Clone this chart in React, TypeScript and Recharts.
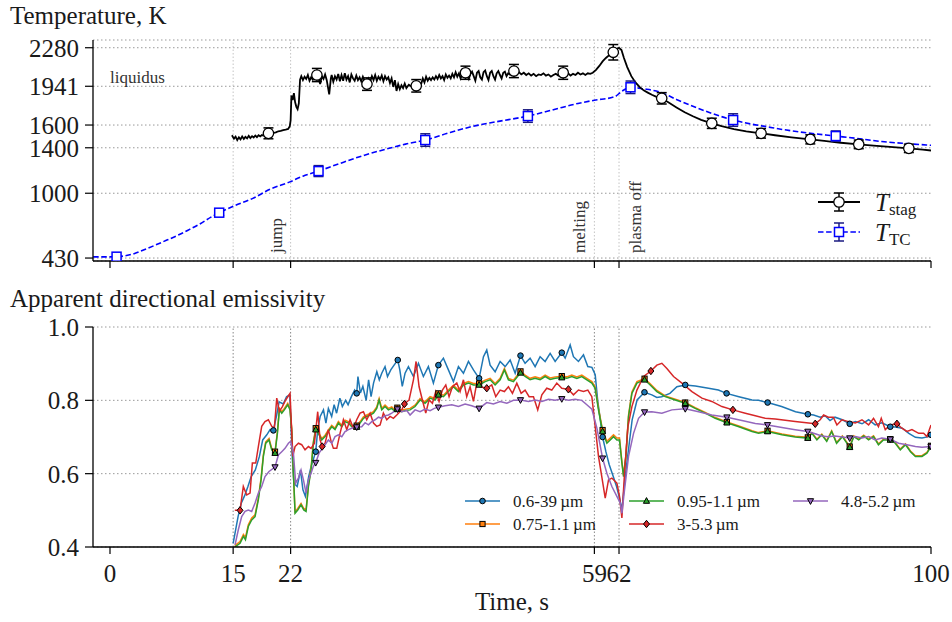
import React from "react";
import {
  ComposedChart,
  Line,
  Scatter,
  XAxis,
  YAxis,
  CartesianGrid,
  ReferenceLine,
  ErrorBar,
} from "recharts";

const FONT = "'Liberation Serif', 'Times New Roman', serif";
const INK = "#1a1a1a";

// axes
const timeTicks = [0, 15, 22, 59, 62, 100];
const eventTimes = [15, 22, 59, 62];
const tempTicks = [430, 1000, 1400, 1600, 1941, 2280];
const liquidusK = 1941;
const emisTicks = [0.4, 0.6, 0.8, 1.0];

// [time s, temperature K, error K (only on marked points)]
const tStag: number[][] = [
  [14.85, 1510], [15.1, 1480], [15.3, 1498], [15.5, 1468], [15.7, 1492], [15.9, 1474], [16.1, 1500],
  [16.3, 1478], [16.5, 1496], [16.7, 1482], [16.9, 1505], [17.1, 1486], [17.3, 1502], [17.5, 1490],
  [17.7, 1508], [17.9, 1494], [18.1, 1510], [18.3, 1500], [18.5, 1512], [18.8, 1505], [19.0, 1518],
  [19.3, 1527, 48], [19.6, 1522], [19.9, 1530], [20.2, 1535], [20.5, 1545], [20.8, 1548], [21.1, 1556],
  [21.4, 1560], [21.7, 1566], [21.9, 1590], [22.0, 1640], [22.1, 1860], [22.25, 1820], [22.4, 1880],
  [22.55, 1800], [22.7, 1760], [22.85, 1740], [23.0, 1790], [23.15, 2000], [23.3, 2030], [23.5, 1995],
  [23.7, 2025], [23.9, 2005], [24.1, 2040], [24.3, 1990], [24.5, 2020], [24.7, 2000], [24.9, 2035],
  [25.2, 2040, 58], [25.4, 2010], [25.6, 1960], [25.8, 2030], [26.0, 2005], [26.2, 2045], [26.4, 1995],
  [26.7, 1870], [26.9, 2010], [27.0, 2040], [27.2, 1980], [27.4, 2030], [27.6, 2000], [27.8, 2050],
  [28.0, 1985], [28.2, 2040], [28.4, 1990], [28.6, 2055], [28.8, 2000], [29.0, 2030], [29.2, 1975],
  [29.4, 2045], [29.6, 2010], [29.8, 1990], [30.0, 2035], [30.2, 1995], [30.4, 2020], [30.6, 1985],
  [30.8, 2025], [31.0, 1990], [31.3, 1960, 55], [31.5, 2010], [31.7, 1985], [31.9, 2030], [32.1, 1995],
  [32.3, 2040], [32.5, 1990], [32.7, 2025], [32.9, 2000], [33.1, 2035], [33.3, 1985], [33.5, 2030],
  [33.7, 2000], [33.9, 2020], [34.1, 1970], [34.3, 2010], [34.5, 1935], [34.7, 1995], [34.9, 1900],
  [35.1, 1960], [35.3, 1915], [35.5, 1950], [35.7, 1925], [35.9, 1965], [36.1, 1925], [36.4, 1955],
  [36.7, 1940], [37.0, 1960], [37.3, 1945, 55], [37.6, 1975], [37.9, 1960], [38.1, 2010], [38.3, 1975],
  [38.5, 2025], [38.7, 1990], [38.9, 2015], [39.1, 1995], [39.3, 2020], [39.5, 2000], [39.7, 2030],
  [39.9, 2005], [40.1, 2040], [40.3, 2010], [40.5, 2030], [40.7, 1995], [40.9, 2045], [41.1, 2015],
  [41.3, 2035], [41.5, 2010], [41.7, 2050], [41.9, 2020], [42.1, 2065], [42.3, 2025], [42.5, 2055],
  [42.7, 2010], [42.9, 2045], [43.1, 2030], [43.3, 2060, 58], [43.5, 2040], [43.7, 2005], [43.9, 2050],
  [44.1, 2070], [44.3, 2030], [44.5, 1990], [44.7, 2060], [44.9, 2075], [45.1, 2020], [45.3, 2000],
  [45.5, 2065], [45.7, 2080], [45.9, 2030], [46.1, 1995], [46.3, 2060], [46.5, 2075], [46.7, 2030],
  [46.9, 2000], [47.1, 2055], [47.3, 2075], [47.5, 2040], [47.7, 2010], [47.9, 2060], [48.1, 2070],
  [48.3, 2030], [48.5, 2055], [48.7, 2045], [48.9, 2070], [49.2, 2075, 58], [49.5, 2055], [49.8, 2065],
  [50.1, 2045], [50.4, 2060], [50.7, 2040], [51.0, 2055], [51.3, 2035], [51.6, 2050], [51.9, 2030],
  [52.2, 2045], [52.5, 2040], [52.8, 2055], [53.1, 2035], [53.4, 2045], [53.7, 2025], [54.0, 2040],
  [54.3, 2050], [54.6, 2035], [54.9, 2055], [55.2, 2060, 58], [55.5, 2045], [55.8, 2055], [56.1, 2035],
  [56.4, 2050], [56.7, 2040], [57.0, 2060], [57.3, 2045], [57.6, 2055], [57.9, 2040], [58.2, 2055],
  [58.5, 2050], [58.8, 2060], [59.2, 2085], [59.6, 2120], [60.0, 2160], [60.4, 2190], [60.8, 2215],
  [61.3, 2240, 68], [61.6, 2265], [62.0, 2280], [62.3, 2260], [62.6, 2190], [63.0, 2110], [63.5, 2030],
  [64.0, 1975], [64.5, 1935], [65.0, 1905], [65.5, 1885], [66.0, 1866], [66.5, 1850], [67.2, 1835, 50],
  [68.0, 1800], [69.0, 1755], [70.0, 1712], [71.0, 1677], [72.0, 1645], [73.3, 1615, 45], [74.5, 1590],
  [76.0, 1565], [77.5, 1545], [79.3, 1527, 42], [81.0, 1510], [83.0, 1492], [85.3, 1474, 40],
  [87.0, 1460], [89.0, 1444], [91.2, 1430, 38], [93.0, 1418], [95.0, 1407], [97.3, 1395, 37],
  [99.0, 1383], [100.0, 1376],
];

const tTC: number[][] = [
  [-2.05, 440], [-0.5, 440], [0.8, 442, 0], [2, 452], [3, 470], [4, 498], [5.5, 543], [7, 590],
  [8.1, 625], [9.5, 675], [11, 732], [12.3, 790], [13.3, 829, 25], [15, 885], [17.4, 955],
  [19.5, 1035], [21.9, 1100], [23.5, 1150], [25.4, 1195, 48], [28, 1262], [31, 1335], [34, 1395],
  [36, 1432], [38.4, 1468, 55], [41, 1525], [44, 1585], [47, 1628], [50.9, 1679, 55], [54, 1735],
  [57, 1790], [59, 1818], [61.5, 1850], [62.3, 1895], [63.4, 1932, 55], [65, 1918], [67, 1890],
  [69, 1825], [71, 1765], [73, 1710], [75.9, 1644, 55], [78, 1610], [80, 1585], [82, 1560],
  [85, 1530], [88.4, 1503, 45], [91, 1482], [94, 1455], [97, 1437], [100, 1422],
];

// [time s, emissivity, 1 = marker]
const e0639: number[][] = [
  [15.0, 0.41], [15.6, 0.483], [16.0, 0.52], [16.4, 0.54], [16.8, 0.565], [17.2, 0.592], [17.7, 0.61],
  [18.2, 0.647], [18.6, 0.692], [19.1, 0.706], [19.5, 0.72], [19.9, 0.718, 1], [20.3, 0.76], [20.6, 0.796],
  [21.1, 0.79], [21.5, 0.81], [21.9, 0.815], [22.2, 0.647], [22.4, 0.574], [22.8, 0.565], [23.2, 0.61],
  [23.5, 0.556], [23.8, 0.538], [24.2, 0.592], [24.5, 0.62], [25.06, 0.66, 1], [25.3, 0.72], [25.6, 0.756],
  [26.0, 0.774], [26.3, 0.738], [26.6, 0.778], [27.0, 0.756], [27.3, 0.788], [27.6, 0.765], [28.0, 0.806],
  [28.3, 0.783], [28.7, 0.8], [29.0, 0.788], [29.4, 0.81], [29.8, 0.828], [30.05, 0.819, 1], [30.2, 0.865],
  [30.5, 0.82], [30.8, 0.838], [31.2, 0.8], [31.5, 0.856], [31.8, 0.81], [32.1, 0.847], [32.5, 0.878],
  [32.8, 0.856], [33.1, 0.874], [33.5, 0.892], [33.8, 0.865], [34.2, 0.883], [34.6, 0.896], [35.05, 0.91, 1],
  [35.3, 0.883], [35.6, 0.838], [35.94, 0.874], [36.35, 0.892], [36.96, 0.865], [37.57, 0.901], [38.17, 0.865],
  [38.78, 0.892], [39.39, 0.847], [40.0, 0.896, 1], [40.61, 0.915], [41.22, 0.883], [41.83, 0.851],
  [42.44, 0.892], [43.05, 0.874], [43.66, 0.906], [44.27, 0.883], [44.96, 0.86, 1], [45.49, 0.919],
  [45.89, 0.937], [46.3, 0.896], [46.91, 0.878], [47.52, 0.906], [48.13, 0.892], [48.74, 0.91],
  [49.35, 0.874], [50.0, 0.922, 1], [50.56, 0.901], [51.17, 0.915], [51.78, 0.892], [52.39, 0.919],
  [53.0, 0.906], [53.61, 0.928], [54.22, 0.906], [55.03, 0.93, 1], [55.44, 0.915], [56.05, 0.951],
  [56.45, 0.919], [57.06, 0.906], [57.67, 0.924], [58.2, 0.892], [58.7, 0.89], [59.1, 0.87], [59.4, 0.8],
  [59.7, 0.75], [60.0, 0.7, 1], [60.4, 0.66], [60.8, 0.625], [61.3, 0.592], [61.7, 0.565], [62.1, 0.53],
  [62.35, 0.5], [62.7, 0.58], [63.0, 0.638], [63.6, 0.747], [64.2, 0.801], [65.1, 0.822, 1], [66.0, 0.815],
  [66.6, 0.808], [67.2, 0.81], [68.2, 0.819], [69.05, 0.837], [70.07, 0.842, 1], [71.3, 0.839], [72.9, 0.833],
  [74.1, 0.828], [75.1, 0.819, 1], [76.6, 0.81], [78.2, 0.801], [79.0, 0.8], [80.1, 0.794, 1], [81.8, 0.783],
  [83.5, 0.769], [85.0, 0.762, 1], [85.7, 0.76], [86.5, 0.754], [87.1, 0.758], [87.7, 0.745], [88.3, 0.754],
  [89.2, 0.747], [90.1, 0.736, 1], [90.8, 0.742], [91.6, 0.736], [92.4, 0.747], [93.2, 0.733], [94.0, 0.739],
  [95.04, 0.728, 1], [95.65, 0.727], [96.5, 0.724], [97.3, 0.71], [98.1, 0.699], [98.9, 0.697], [99.7, 0.701],
  [100.0, 0.706, 1],
];

const e07511: number[][] = [
  [15.2, 0.404], [15.84, 0.415], [16.25, 0.434], [16.5, 0.426], [16.85, 0.461], [17.26, 0.479], [17.67, 0.488],
  [18.07, 0.534], [18.4, 0.587], [18.68, 0.651], [18.97, 0.687], [19.37, 0.696], [19.7, 0.669], [20.1, 0.66, 1],
  [20.39, 0.714], [20.63, 0.778], [20.92, 0.769], [21.24, 0.778], [21.65, 0.792], [21.93, 0.778], [22.13, 0.724],
  [22.34, 0.605], [22.54, 0.496], [22.87, 0.505], [23.27, 0.519], [23.6, 0.505], [23.88, 0.501], [24.17, 0.569],
  [24.49, 0.614], [24.77, 0.687], [25.06, 0.724, 1], [25.38, 0.714], [25.79, 0.696], [26.2, 0.705], [26.6, 0.719],
  [27.01, 0.732], [27.41, 0.724], [27.82, 0.742], [28.23, 0.732], [28.63, 0.746], [29.04, 0.742], [29.45, 0.732],
  [30.05, 0.731, 1], [30.46, 0.742], [30.87, 0.755], [31.27, 0.76], [31.68, 0.764], [32.09, 0.769], [32.49, 0.782],
  [32.78, 0.805], [33.1, 0.778], [33.5, 0.787], [33.91, 0.778], [34.32, 0.782], [34.73, 0.773], [35.0, 0.78, 1],
  [35.5, 0.773], [36.0, 0.776], [36.55, 0.778], [37.16, 0.787], [37.77, 0.805], [38.38, 0.796], [38.99, 0.81],
  [39.6, 0.805], [40.0, 0.819, 1], [40.61, 0.814], [41.22, 0.828], [41.83, 0.841], [42.44, 0.828], [43.05, 0.846],
  [43.66, 0.851], [44.27, 0.846], [44.96, 0.846, 1], [45.69, 0.855], [46.3, 0.86], [46.91, 0.846], [47.52, 0.86],
  [48.04, 0.887], [48.53, 0.86], [49.14, 0.855], [50.0, 0.879, 1], [50.56, 0.869], [51.17, 0.86], [51.78, 0.864],
  [52.39, 0.86], [53.0, 0.869], [53.61, 0.861], [54.22, 0.864], [55.03, 0.866, 1], [55.64, 0.864], [56.25, 0.869],
  [56.86, 0.864], [57.47, 0.869], [58.08, 0.86], [58.69, 0.851], [59.09, 0.837], [59.5, 0.778], [60.0, 0.719, 1],
  [60.52, 0.688], [60.93, 0.697], [61.33, 0.706], [61.74, 0.697], [62.06, 0.697], [62.35, 0.633], [62.55, 0.596],
  [62.84, 0.651], [63.16, 0.76], [63.57, 0.823], [64.18, 0.851], [65.11, 0.859, 1], [65.8, 0.845], [66.61, 0.827],
  [67.63, 0.812], [68.85, 0.803], [70.07, 0.794, 1], [71.28, 0.78], [72.5, 0.767], [73.72, 0.753], [75.14, 0.741, 1],
  [76.6, 0.73], [78.2, 0.717], [79.0, 0.712], [80.09, 0.717, 1], [81.84, 0.708], [83.46, 0.702], [85.0, 0.699, 1],
  [85.5, 0.712], [86.1, 0.694], [86.7, 0.708], [87.3, 0.69], [87.9, 0.717], [88.5, 0.685], [89.2, 0.703],
  [90.1, 0.674, 1], [90.6, 0.703], [91.2, 0.694], [91.8, 0.705], [92.4, 0.694], [93.0, 0.703], [93.6, 0.681],
  [94.2, 0.694], [95.04, 0.694, 1], [95.65, 0.685], [96.26, 0.667], [96.9, 0.681], [97.5, 0.662], [98.1, 0.649],
  [98.9, 0.649], [99.5, 0.658], [100.0, 0.676, 1],
];

const e09511: number[][] = [
  [15.2, 0.4], [15.84, 0.41], [16.25, 0.429], [16.5, 0.42], [16.85, 0.456], [17.26, 0.474], [17.67, 0.483],
  [18.07, 0.529], [18.4, 0.583], [18.68, 0.647], [18.97, 0.683], [19.37, 0.692], [19.7, 0.665], [20.1, 0.656, 1],
  [20.39, 0.71], [20.63, 0.774], [20.92, 0.765], [21.24, 0.774], [21.65, 0.788], [21.93, 0.774], [22.13, 0.72],
  [22.34, 0.601], [22.54, 0.492], [22.87, 0.501], [23.27, 0.515], [23.6, 0.501], [23.88, 0.497], [24.17, 0.565],
  [24.49, 0.61], [24.77, 0.683], [25.06, 0.72, 1], [25.38, 0.71], [25.79, 0.692], [26.2, 0.701], [26.6, 0.715],
  [27.01, 0.728], [27.41, 0.72], [27.82, 0.738], [28.23, 0.728], [28.63, 0.742], [29.04, 0.738], [29.45, 0.728],
  [30.05, 0.727, 1], [30.46, 0.738], [30.87, 0.751], [31.27, 0.756], [31.68, 0.76], [32.09, 0.765], [32.49, 0.778],
  [32.78, 0.801], [33.1, 0.774], [33.5, 0.783], [33.91, 0.774], [34.32, 0.778], [34.73, 0.769], [35.0, 0.776, 1],
  [35.5, 0.769], [36.0, 0.772], [36.55, 0.774], [37.16, 0.783], [37.77, 0.801], [38.38, 0.792], [38.99, 0.806],
  [39.6, 0.801], [40.0, 0.815, 1], [40.61, 0.81], [41.22, 0.824], [41.83, 0.837], [42.44, 0.824], [43.05, 0.842],
  [43.66, 0.847], [44.27, 0.842], [44.96, 0.842, 1], [45.69, 0.851], [46.3, 0.856], [46.91, 0.842], [47.52, 0.856],
  [48.04, 0.883], [48.53, 0.856], [49.14, 0.851], [50.0, 0.875, 1], [50.56, 0.865], [51.17, 0.856], [51.78, 0.86],
  [52.39, 0.856], [53.0, 0.865], [53.61, 0.857], [54.22, 0.86], [55.03, 0.862, 1], [55.64, 0.86], [56.25, 0.865],
  [56.86, 0.86], [57.47, 0.865], [58.08, 0.856], [58.69, 0.847], [59.09, 0.833], [59.5, 0.774], [60.0, 0.715, 1],
  [60.52, 0.683], [60.93, 0.692], [61.33, 0.701], [61.74, 0.692], [62.06, 0.692], [62.35, 0.629], [62.55, 0.592],
  [62.84, 0.647], [63.16, 0.756], [63.57, 0.819], [64.18, 0.847], [65.11, 0.856, 1], [65.8, 0.842], [66.61, 0.824],
  [67.63, 0.81], [68.85, 0.801], [70.07, 0.792, 1], [71.28, 0.778], [72.5, 0.765], [73.72, 0.751], [75.14, 0.739, 1],
  [76.6, 0.728], [78.2, 0.715], [79.0, 0.71], [80.09, 0.715, 1], [81.84, 0.706], [83.46, 0.7], [85.0, 0.697, 1],
  [85.5, 0.71], [86.1, 0.692], [86.7, 0.706], [87.3, 0.688], [87.9, 0.715], [88.5, 0.683], [89.2, 0.701],
  [90.1, 0.672, 1], [90.6, 0.701], [91.2, 0.692], [91.8, 0.703], [92.4, 0.692], [93.0, 0.701], [93.6, 0.679],
  [94.2, 0.692], [95.04, 0.692, 1], [95.65, 0.683], [96.26, 0.665], [96.9, 0.679], [97.5, 0.66], [98.1, 0.647],
  [98.9, 0.647], [99.5, 0.656], [100.0, 0.674, 1],
];

const e353: number[][] = [
  [15.2, 0.5], [15.84, 0.5, 1], [16.24, 0.565], [16.65, 0.542], [17.06, 0.547], [17.34, 0.629], [17.75, 0.629],
  [18.07, 0.674], [18.48, 0.729], [18.88, 0.742], [19.29, 0.747], [19.7, 0.729], [20.02, 0.724], [20.31, 0.806],
  [20.63, 0.77], [21.0, 0.783], [21.4, 0.801], [21.93, 0.819], [22.26, 0.647], [22.54, 0.674], [22.95, 0.683],
  [23.35, 0.679], [23.76, 0.665], [24.17, 0.674], [24.49, 0.669], [24.9, 0.683], [25.3, 0.769], [25.59, 0.692],
  [25.84, 0.674, 1], [26.2, 0.683], [26.6, 0.72], [26.93, 0.688], [27.21, 0.669], [27.62, 0.669], [28.02, 0.71],
  [28.43, 0.747], [28.84, 0.72], [29.24, 0.747], [29.65, 0.724], [30.05, 0.747], [30.46, 0.765], [30.87, 0.769],
  [31.27, 0.747], [31.68, 0.765], [32.09, 0.738], [32.49, 0.729], [32.9, 0.733], [33.3, 0.765], [33.71, 0.747],
  [34.12, 0.756], [34.52, 0.751], [34.93, 0.76], [35.54, 0.774], [35.86, 0.79, 1], [36.43, 0.801], [36.96, 0.856],
  [37.28, 0.906], [37.65, 0.837], [38.05, 0.801], [38.46, 0.765], [38.86, 0.801], [39.27, 0.792], [39.68, 0.824],
  [40.08, 0.797], [40.49, 0.828], [40.9, 0.842], [41.3, 0.81], [41.71, 0.837], [42.24, 0.847], [42.64, 0.824],
  [43.05, 0.856], [43.45, 0.81], [43.86, 0.837], [44.27, 0.797], [44.67, 0.847], [45.08, 0.837], [45.89, 0.833, 1],
  [46.5, 0.842], [46.99, 0.81], [47.52, 0.828], [48.04, 0.824], [48.53, 0.837], [49.02, 0.819], [49.55, 0.847],
  [50.08, 0.819], [50.56, 0.828], [51.05, 0.81], [51.58, 0.81], [52.1, 0.774], [52.6, 0.815], [53.2, 0.833],
  [53.81, 0.828], [54.42, 0.847], [55.03, 0.833], [55.84, 0.83, 1], [56.45, 0.815], [57.06, 0.828], [57.67, 0.824],
  [58.2, 0.828], [58.69, 0.81], [59.1, 0.728], [59.5, 0.647], [59.9, 0.592], [60.32, 0.533], [60.72, 0.583],
  [61.13, 0.588], [61.74, 0.574], [62.06, 0.538], [62.35, 0.479], [62.67, 0.601], [63.08, 0.728], [63.57, 0.783],
  [64.18, 0.828], [64.99, 0.865], [65.88, 0.88, 1], [66.61, 0.896], [67.22, 0.901], [67.83, 0.887], [68.64, 0.865],
  [69.66, 0.847], [70.88, 0.824], [72.1, 0.806], [73.3, 0.797], [74.53, 0.783], [75.87, 0.774, 1], [77.38, 0.765],
  [78.6, 0.758], [79.8, 0.751], [81.03, 0.749], [83.46, 0.742], [85.09, 0.738], [85.9, 0.736, 1], [86.5, 0.747],
  [86.92, 0.76], [87.5, 0.754], [88.1, 0.754], [88.54, 0.733], [89.15, 0.747], [89.96, 0.742], [90.78, 0.738],
  [91.59, 0.747], [92.4, 0.733], [93.0, 0.751], [93.6, 0.728], [93.94, 0.751], [94.43, 0.72], [95.04, 0.733],
  [95.85, 0.736, 1], [96.46, 0.724], [97.07, 0.715], [97.68, 0.72], [98.5, 0.71], [99.1, 0.71], [99.5, 0.701],
  [100.0, 0.733],
];

const e4852: number[][] = [
  [15.23, 0.406], [15.63, 0.447], [16.04, 0.483], [16.45, 0.497], [16.85, 0.501], [17.26, 0.497], [17.67, 0.52],
  [18.07, 0.547], [18.48, 0.565], [18.88, 0.592], [19.37, 0.606], [20.1, 0.618, 1], [20.51, 0.651], [20.92, 0.66],
  [21.32, 0.669], [21.73, 0.683], [22.0, 0.688], [22.34, 0.656], [22.62, 0.574], [22.95, 0.588], [23.27, 0.61],
  [23.56, 0.583], [23.88, 0.547], [24.17, 0.583], [24.49, 0.601], [24.77, 0.62], [25.06, 0.63, 1], [25.46, 0.656],
  [25.87, 0.669], [26.2, 0.679], [26.6, 0.692], [27.01, 0.683], [27.41, 0.701], [27.82, 0.706], [28.23, 0.701],
  [28.63, 0.715], [29.04, 0.72], [29.45, 0.724], [30.05, 0.727, 1], [30.66, 0.728], [31.07, 0.739], [31.48, 0.733],
  [31.88, 0.742], [32.29, 0.747], [32.7, 0.754], [33.1, 0.751], [33.51, 0.758], [33.91, 0.76], [34.32, 0.765],
  [35.0, 0.776, 1], [35.54, 0.769], [36.15, 0.772], [36.55, 0.76], [37.16, 0.774], [37.77, 0.769], [38.38, 0.776],
  [38.99, 0.772], [39.5, 0.778], [40.0, 0.781, 1], [40.81, 0.785], [41.63, 0.788], [42.44, 0.783], [43.25, 0.79],
  [44.06, 0.785], [44.96, 0.778, 1], [45.89, 0.794], [46.7, 0.79], [47.52, 0.797], [48.33, 0.792], [49.14, 0.8],
  [50.0, 0.801, 1], [50.97, 0.797], [51.78, 0.801], [52.6, 0.797], [53.41, 0.803], [54.22, 0.8], [55.03, 0.804, 1],
  [55.84, 0.8], [56.66, 0.803], [57.47, 0.8], [58.08, 0.788], [58.69, 0.776], [59.3, 0.725], [60.0, 0.642, 1],
  [60.52, 0.601], [61.13, 0.565], [61.74, 0.538], [62.15, 0.52], [62.35, 0.492], [62.67, 0.556], [63.16, 0.647],
  [63.77, 0.71], [64.38, 0.751], [65.11, 0.768, 1], [66.0, 0.769], [67.22, 0.765], [68.44, 0.774], [70.07, 0.777, 1],
  [71.69, 0.769], [73.3, 0.76], [75.14, 0.754, 1], [76.97, 0.745], [78.6, 0.737], [80.09, 0.733, 1], [81.84, 0.726],
  [83.46, 0.72], [85.0, 0.715, 1], [85.9, 0.709], [86.7, 0.703], [87.5, 0.701], [88.3, 0.703], [89.2, 0.7],
  [90.1, 0.697, 1], [90.8, 0.701], [91.6, 0.697], [92.4, 0.701], [93.2, 0.692], [94.0, 0.697], [95.04, 0.694, 1],
  [96.06, 0.683], [97.07, 0.679], [98.1, 0.674], [98.9, 0.672], [100.0, 0.674, 1],
];

const bands = [
  { name: "0.6-39\u2009µm", rows: e0639, color: "#1f77b4", marker: "circle" },
  { name: "0.75-1.1\u2009µm", rows: e07511, color: "#ff7f0e", marker: "square" },
  { name: "0.95-1.1\u2009µm", rows: e09511, color: "#2ca02c", marker: "up" },
  { name: "3-5.3\u2009µm", rows: e353, color: "#d62728", marker: "diamond" },
  { name: "4.8-5.2\u2009µm", rows: e4852, color: "#9467bd", marker: "down" },
];

const toPts = (rows: number[][]) => rows.map((r) => ({ t: r[0], v: r[1], e: r[2] }));
const marked = (rows: number[][]) => toPts(rows.filter((r) => r.length > 2));

function marker(kind: string, cx: number, cy: number, fill: string, key?: string) {
  const common = { fill, stroke: "#000", strokeWidth: 1 };
  if (kind === "circle") return <circle key={key} cx={cx} cy={cy} r={2.8} {...common} />;
  if (kind === "square") return <rect key={key} x={cx - 2.6} y={cy - 2.6} width={5.2} height={5.2} {...common} />;
  if (kind === "up")
    return <polygon key={key} points={`${cx},${cy - 3.4} ${cx + 3.1},${cy + 2.3} ${cx - 3.1},${cy + 2.3}`} {...common} />;
  if (kind === "down")
    return <polygon key={key} points={`${cx},${cy + 3.4} ${cx + 3.1},${cy - 2.3} ${cx - 3.1},${cy - 2.3}`} {...common} />;
  return <polygon key={key} points={`${cx},${cy - 3.7} ${cx + 3},${cy} ${cx},${cy + 3.7} ${cx - 3},${cy}`} {...common} />;
}

const tickStyle = { fontSize: 25, fontFamily: FONT, fill: INK };
const axisStyle = { stroke: "#000", strokeWidth: 1.3 };

const eventLabel = (text: string, dx: number) => (props: any) => {
  const { x, y, height } = props.viewBox;
  const bx = x + dx;
  const by = y + height - 8;
  return (
    <text x={bx} y={by} transform={`rotate(-90 ${bx} ${by})`} fontSize={17} fontFamily={FONT} fill="#333">
      {text}
    </text>
  );
};

const liquidusLabel = (props: any) => {
  const { x, y } = props.viewBox;
  return (
    <text x={x + 17} y={y - 3} fontSize={17} fontFamily={FONT} fill="#333">
      liquidus
    </text>
  );
};

function TemperaturePanel() {
  return (
    <ComposedChart width={952} height={280} margin={{ top: 40, right: 21, bottom: 0, left: 33 }}>
      <CartesianGrid vertical={false} stroke="#999" strokeDasharray="1.5 2.5" />
      {eventTimes.map((t) => (
        <ReferenceLine
          key={t}
          x={t}
          stroke="#c4c4c4"
          strokeDasharray="1.5 2"
          label={t === 22 ? eventLabel("jump", -9) : t === 59 ? eventLabel("melting", -9) : t === 62 ? eventLabel("plasma off", 22) : undefined}
        />
      ))}
      <ReferenceLine y={liquidusK} stroke="none" label={liquidusLabel} />
      <XAxis
        type="number"
        dataKey="t"
        domain={[-2.07, 100]}
        ticks={timeTicks}
        interval={0}
        allowDataOverflow
        tickFormatter={() => ""}
        tickSize={7}
        height={19}
        axisLine={axisStyle}
        tickLine={{ stroke: "#000", strokeWidth: 1.2 }}
      />
      <YAxis
        type="number"
        dataKey="v"
        domain={[404, 2348]}
        ticks={tempTicks}
        interval={0}
        allowDataOverflow
        width={60}
        tickSize={8}
        tickMargin={6}
        tick={tickStyle}
        axisLine={axisStyle}
        tickLine={{ stroke: "#000", strokeWidth: 1.2 }}
      />
      <Line data={toPts(tTC)} dataKey="v" type="monotone" stroke="#0000ff" strokeWidth={1.6} strokeDasharray="5.5 2.6" dot={false} isAnimationActive={false} />
      <Line data={toPts(tStag)} dataKey="v" type="linear" stroke="#000" strokeWidth={1.8} dot={false} isAnimationActive={false} />
      <Scatter
        data={marked(tTC)}
        dataKey="v"
        isAnimationActive={false}
        shape={(p: any) => <rect x={p.cx - 4.5} y={p.cy - 4.5} width={9} height={9} fill="#fff" stroke="#0000ff" strokeWidth={1.5} />}
      >
        <ErrorBar dataKey="e" direction="y" width={5} stroke="#1a1a80" strokeWidth={1.5} />
      </Scatter>
      <Scatter
        data={marked(tStag)}
        dataKey="v"
        isAnimationActive={false}
        shape={(p: any) => <circle cx={p.cx} cy={p.cy} r={5.2} fill="#fff" stroke="#000" strokeWidth={1.3} />}
      >
        <ErrorBar dataKey="e" direction="y" width={5} stroke="#000" strokeWidth={1.5} />
      </Scatter>
    </ComposedChart>
  );
}

function EmissivityPanel() {
  return (
    <ComposedChart width={952} height={342} margin={{ top: 47, right: 21, bottom: 0, left: 33 }}>
      <CartesianGrid vertical={false} stroke="#999" strokeDasharray="1.5 2.5" />
      {eventTimes.map((t) => (
        <ReferenceLine key={t} x={t} stroke="#888" strokeDasharray="1.5 2" />
      ))}
      <XAxis
        type="number"
        dataKey="t"
        domain={[-2.07, 100]}
        ticks={timeTicks}
        interval={0}
        allowDataOverflow
        tickSize={7}
        tickMargin={10}
        height={75}
        tick={tickStyle}
        axisLine={axisStyle}
        tickLine={{ stroke: "#000", strokeWidth: 1.2 }}
      />
      <YAxis
        type="number"
        dataKey="v"
        domain={[0.4, 1.0]}
        ticks={emisTicks}
        interval={0}
        allowDataOverflow
        width={60}
        tickSize={8}
        tickMargin={6}
        tick={tickStyle}
        tickFormatter={(v: number) => v.toFixed(1)}
        axisLine={axisStyle}
        tickLine={{ stroke: "#000", strokeWidth: 1.2 }}
      />
      {bands.map((b) => (
        <Line
          key={b.name}
          data={toPts(b.rows)}
          dataKey="v"
          type="linear"
          stroke={b.color}
          strokeWidth={1.5}
          isAnimationActive={false}
          dot={(p: any) =>
            p.payload && p.payload.e ? marker(b.marker, p.cx, p.cy, b.color, `${b.name}-${p.index}`) : <g key={`${b.name}-${p.index}`} />
          }
        />
      ))}
    </ComposedChart>
  );
}

function Overlay() {
  const leg = [
    { x: 465, y: 501 },
    { x: 465, y: 524 },
    { x: 629, y: 501 },
    { x: 629, y: 524 },
    { x: 793, y: 501 },
  ];
  return (
    <svg width={952} height={622} style={{ position: "absolute", left: 0, top: 0, pointerEvents: "none" }}>
      <text x={10} y={24} fontSize={25} fontFamily={FONT} fill={INK}>Temperature, K</text>
      <text x={10} y={307} fontSize={25} fontFamily={FONT} fill={INK}>Apparent directional emissivity</text>
      <text x={512} y={610} fontSize={25} fontFamily={FONT} fill={INK} textAnchor="middle">Time, s</text>

      {/* temperature legend */}
      <line x1={818} x2={860} y1={202} y2={202} stroke="#000" strokeWidth={1.8} />
      <line x1={839} x2={839} y1={193} y2={211} stroke="#000" strokeWidth={1.5} />
      <line x1={834} x2={844} y1={193} y2={193} stroke="#000" strokeWidth={1.5} />
      <line x1={834} x2={844} y1={211} y2={211} stroke="#000" strokeWidth={1.5} />
      <circle cx={839} cy={202} r={5.2} fill="#fff" stroke="#000" strokeWidth={1.3} />
      <text x={875} y={211} fontSize={25} fontFamily={FONT} fill={INK}>
        <tspan fontStyle="italic">T</tspan>
        <tspan fontSize={17} dy={4}>stag</tspan>
      </text>
      <line x1={818} x2={860} y1={232} y2={232} stroke="#0000ff" strokeWidth={1.6} strokeDasharray="5.5 2.6" />
      <line x1={839} x2={839} y1={223} y2={241} stroke="#1a1a80" strokeWidth={1.5} />
      <line x1={834} x2={844} y1={223} y2={223} stroke="#1a1a80" strokeWidth={1.5} />
      <line x1={834} x2={844} y1={241} y2={241} stroke="#1a1a80" strokeWidth={1.5} />
      <rect x={834.5} y={227.5} width={9} height={9} fill="#fff" stroke="#0000ff" strokeWidth={1.5} />
      <text x={875} y={241} fontSize={25} fontFamily={FONT} fill={INK}>
        <tspan fontStyle="italic">T</tspan>
        <tspan fontSize={17} dy={4}>TC</tspan>
      </text>

      {/* emissivity legend */}
      {bands.map((b, i) => (
        <g key={b.name}>
          <line x1={leg[i].x} x2={leg[i].x + 35} y1={leg[i].y} y2={leg[i].y} stroke={b.color} strokeWidth={1.5} />
          {marker(b.marker, leg[i].x + 17.5, leg[i].y, b.color)}
          <text x={leg[i].x + 48} y={leg[i].y + 6} fontSize={17} fontFamily={FONT} fill={INK}>
            {b.name}
          </text>
        </g>
      ))}
    </svg>
  );
}

export default function App() {
  return (
    <div style={{ position: "absolute", left: 0, top: 0, width: 952, height: 622, background: "#fff" }}>
      <div style={{ position: "absolute", left: 0, top: 0 }}>
        <TemperaturePanel />
      </div>
      <div style={{ position: "absolute", left: 0, top: 280 }}>
        <EmissivityPanel />
      </div>
      <Overlay />
    </div>
  );
}
